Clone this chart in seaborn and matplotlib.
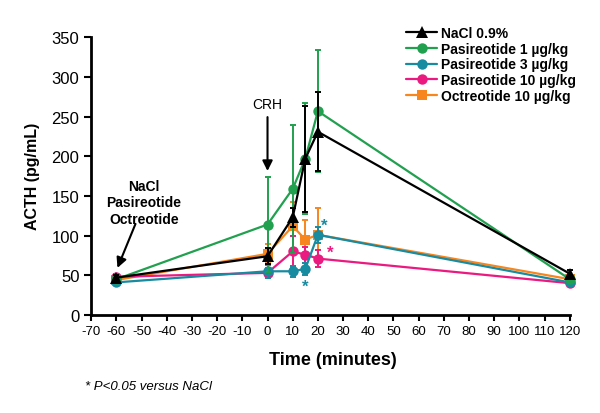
import numpy as np
import pandas as pd
import matplotlib
matplotlib.use("Agg")
import matplotlib.pyplot as plt
from matplotlib.lines import Line2D
import seaborn as sns

time = [-60, 0, 10, 15, 20, 120]
series = ["NaCl 0.9%", "Pasireotide 1 µg/kg", "Pasireotide 3 µg/kg",
          "Pasireotide 10 µg/kg", "Octreotide 10 µg/kg"]
nacl = [47, 74, 123, 197, 231, 52]
nacl_err = [3, 10, 12, 67, 50, 4]
pas1 = [45, 114, 159, 197, 257, 45]
pas1_err = [3, 60, 81, 70, 77, 3]
pas3 = [41, 55, 55, 58, 101, 41]
pas3_err = [3, 8, 7, 8, 10, 3]
pas10 = [48, 53, 80, 76, 71, 40]
pas10_err = [3, 6, 19, 10, 11, 3]
oct10 = [44, 77, 112, 95, 101, 45]
oct10_err = [3, 12, 31, 25, 34, 3]

colors = ["#000000", "#21a04f", "#188ba0", "#ea1a80", "#f7861f"]
markers = ["^", "o", "o", "o", "s"]
msizes = [8.5, 7.5, 7.5, 7.5, 7]

vals = [nacl, pas1, pas3, pas10, oct10]
errs = [nacl_err, pas1_err, pas3_err, pas10_err, oct10_err]

rows = []
for name, v, e in zip(series, vals, errs):
    for t, y, er in zip(time, v, e):
        rows.append({"Time": t, "ACTH": y, "err": er, "Group": name})
df = pd.DataFrame(rows)

sns.set_style("ticks")
plt.rcParams['font.family'] = ['Liberation Sans', 'DejaVu Sans']
plt.rcParams['axes.unicode_minus'] = False
for k in ["text.color", "axes.labelcolor", "xtick.color", "ytick.color",
          "axes.edgecolor"]:
    plt.rcParams[k] = "black"

fig = plt.figure(figsize=(6, 4.14), dpi=100)
ax = fig.add_axes([0.152, 0.237, 0.806, 0.674])

order = [4, 3, 2, 1, 0]  # NaCl drawn last (on top)
for z, i in enumerate(order):
    name, c, m, ms = series[i], colors[i], markers[i], msizes[i]
    sub = df[df.Group == name]
    ax.errorbar(sub.Time, sub.ACTH, yerr=sub.err, fmt="none", ecolor=c,
                elinewidth=1.4, capsize=2, capthick=1.4, zorder=2 + 2 * z)
    sns.lineplot(data=sub, x="Time", y="ACTH", color=c, marker=m,
                 markersize=ms, markeredgewidth=0, linewidth=1.6, ax=ax,
                 legend=False, zorder=3 + 2 * z)

ax.set_xlim(-70, 122)
ax.set_ylim(0, 352)
ax.set_xticks(np.arange(-70, 121, 10))
ax.set_yticks(np.arange(0, 351, 50))
ax.tick_params(axis="x", labelsize=9.5, direction="out", width=1.5, length=4)
ax.tick_params(axis="y", labelsize=12, direction="out", width=1.5, length=5)
for s in ["left", "bottom"]:
    ax.spines[s].set_linewidth(2)
sns.despine(ax=ax)
ax.spines["left"].set_bounds(0, 350)
ax.spines["bottom"].set_bounds(-70, 120)

ax.set_xlabel("Time (minutes)", fontsize=13, fontweight="bold", labelpad=10)
ax.set_ylabel("ACTH (pg/mL)", fontsize=11.5, fontweight="bold", labelpad=8)

handles = [Line2D([0], [0], color=c, marker=m, markersize=ms,
                  markeredgewidth=0, linewidth=1.6)
           for c, m, ms in zip(colors, markers, msizes)]
leg = ax.legend(handles, series, loc="upper left", bbox_to_anchor=(0.64, 1.055),
                frameon=False, fontsize=10, handlelength=2.2,
                handletextpad=0.3, labelspacing=0.12, borderaxespad=0)
for t in leg.get_texts():
    t.set_fontweight("bold")

# annotations
ax.annotate("", xy=(0, 178), xytext=(0, 253),
            arrowprops=dict(arrowstyle="-|>", color="black", lw=1.5,
                            mutation_scale=15))
ax.text(0, 257, "CRH", ha="center", va="bottom", fontsize=10)
ax.text(-49, 172, "NaCl\nPasireotide\nOctreotide", ha="center", va="top",
        fontsize=10, fontweight="bold", linespacing=1.25)
ax.annotate("", xy=(-60, 56), xytext=(-52, 118),
            arrowprops=dict(arrowstyle="-|>", color="black", lw=1.5,
                            mutation_scale=15))
ax.text(22.5, 108, "*", color=colors[2], fontsize=12, fontweight="bold", ha="center")
ax.text(15, 30, "*", color=colors[2], fontsize=12, fontweight="bold", ha="center")
ax.text(25, 73, "*", color=colors[3], fontsize=12, fontweight="bold", ha="center")

fig.text(0.142, 0.058, "* P<0.05 versus NaCl", fontsize=9.5, style="italic")

fig.savefig("out.png", dpi=100)
